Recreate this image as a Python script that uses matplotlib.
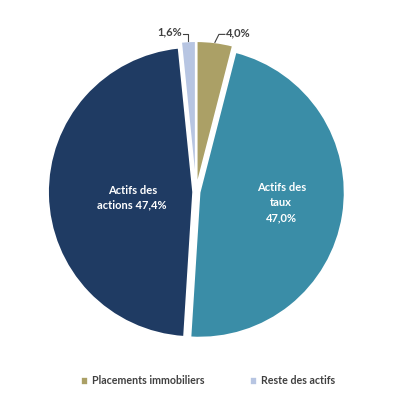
import numpy as np
import matplotlib.pyplot as plt

labels = ["Placements immobiliers", "Actifs des taux", "Actifs des actions", "Reste des actifs"]
valeurs = [4.0, 47.0, 47.4, 1.6]
textes = ["4,0%", "Actifs des\ntaux\n47,0%", "Actifs des\nactions 47,4%", "1,6%"]
couleurs = ["#ABA066", "#3A8DA7", "#1F3B63", "#B7C5E2"]
ecarts = [0.04, 0.025, 0.02, 0.04]

plt.rcParams['font.family'] = ['Lato', 'DejaVu Sans']

fig = plt.figure(figsize=(4.04, 3.95), dpi=100)
ax = fig.add_axes([0, 0, 1, 1])

# centre du camembert a (196, 192) px, rayon 145 px
cx, cy, R = 196, 192, 145

wedges, _ = ax.pie(valeurs, colors=couleurs, explode=ecarts, startangle=90,
                   counterclock=False, radius=1,
                   wedgeprops=dict(edgecolor='white', linewidth=1.2))
ax.set_aspect('equal')
ax.set_xlim(-cx / R, (404 - cx) / R)
ax.set_ylim(-(395 - cy) / R, cy / R)
ax.axis('off')

# etiquettes interieures
for i, r, dy in ((1, 0.57, 0.02), (2, 0.42, -0.03)):
    w = wedges[i]
    ang = np.deg2rad((w.theta1 + w.theta2) / 2)
    x = w.center[0] + r * np.cos(ang)
    y = w.center[1] + r * np.sin(ang) + dy
    ax.text(x, y, textes[i], ha='center', va='center', color='white',
            fontsize=8, fontweight='bold', linespacing=1.45)

# etiquettes exterieures avec traits
gris = '#404040'
d = 1 / R
w = wedges[0]
ang = np.deg2rad((w.theta1 + w.theta2) / 2)
px = w.center[0] + np.cos(ang)
py = w.center[1] + np.sin(ang)
ax.plot([px, px + 4 * d, px + 10 * d], [py, py + 8 * d, py + 8 * d], color=gris, lw=0.8)
ax.text(px + 11 * d, py + 10 * d, textes[0], ha='left', va='center', color=gris,
        fontsize=8, fontweight='bold')

w = wedges[3]
ang = np.deg2rad((w.theta1 + w.theta2) / 2)
px = w.center[0] + np.cos(ang)
py = w.center[1] + np.sin(ang)
ax.plot([px, px, px - 5 * d], [py, py + 7 * d, py + 7 * d], color=gris, lw=0.8)
ax.text(px - 6 * d, py + 10 * d, textes[3], ha='right', va='center', color=gris,
        fontsize=8, fontweight='bold')

leg = ax.legend([wedges[0], wedges[3]], [labels[0], labels[3]], loc='center',
                bbox_to_anchor=(0.515, 1 - 381 / 395), ncol=2, frameon=False,
                fontsize=7.7, handlelength=0.7, handleheight=0.7, handletextpad=0.4,
                columnspacing=4.2)
for t in leg.get_texts():
    t.set_color(gris)
    t.set_fontweight('bold')

fig.savefig('out.png', dpi=100)
